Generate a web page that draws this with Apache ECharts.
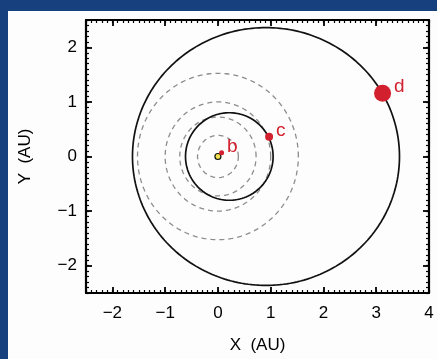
<!DOCTYPE html>
<html><head><meta charset="utf-8">
<script src="https://cdn.jsdelivr.net/npm/echarts@6/dist/echarts.min.js"></script>
<style>
html,body{margin:0;padding:0;width:437px;height:359px;overflow:hidden;background:#17407f;}
#paper{position:absolute;left:8px;top:11px;right:0;bottom:0;background:#fdfdfd;}
#chart{position:absolute;left:0;top:0;width:437px;height:359px;}
</style></head>
<body><div id="paper"></div><div id="chart"></div>
<script>
// ---- data ----
var xTicks = [-2, -1, 0, 1, 2, 3, 4];
var yTicks = [-2, -1, 0, 1, 2];
var xRange = [-2.5, 4];
var yRange = [-2.5, 2.5];
// Solar-system reference orbits (dashed), radius in AU
var solarRadii = [0.387, 0.723, 1.0, 1.524];
// Planet orbits: semi-major axis (AU), eccentricity
var orbitNames = ['c', 'd'];
var orbitA = [0.83, 2.53];
var orbitE = [0.26, 0.36];
// Planet positions
var planetNames = ['b', 'c', 'd'];
var planetX = [0.07, 0.97, 3.12];
var planetY = [0.07, 0.36, 1.16];
var planetSize = [5, 8, 17];
var star = [0, 0];

function ellipse(a, e) {
  var pts = [], c = a * e, b = a * Math.sqrt(1 - e * e);
  for (var i = 0; i <= 240; i++) {
    var t = i / 240 * 2 * Math.PI;
    pts.push([c + a * Math.cos(t), b * Math.sin(t)]);
  }
  return pts;
}
function minorVals(range, step) {
  var v = [], n = Math.round((range[1] - range[0]) / step);
  for (var i = 0; i <= n; i++) v.push(+(range[0] + i * step).toFixed(3));
  return v;
}
var fmt = function (v) { return String(v).replace('-', '\u2212'); };
var font = 'Liberation Sans';

function mkAxis(kind, pos, range, majors, withLabel, minor, name) {
  var ax = {
    type: 'value', position: pos, min: range[0], max: range[1],
    splitLine: { show: false },
    axisLine: { show: !minor, onZero: false, lineStyle: { color: '#000', width: 2.2 } },
    axisTick: { show: true, inside: true, length: minor ? 3 : 6,
      customValues: minor ? minorVals(range, 0.1) : majors,
      lineStyle: { color: '#000', width: minor ? 1.2 : 1.8 } },
    axisLabel: { show: withLabel, customValues: majors, formatter: fmt,
      fontFamily: font, fontSize: 17, color: '#000', margin: kind === 'x' ? 12 : 9 }
  };
  if (name) {
    ax.name = name; ax.nameLocation = 'middle';
    ax.nameGap = kind === 'x' ? 44 : 52;
    ax.nameTextStyle = { fontFamily: font, fontSize: 17, color: '#000' };
  }
  return ax;
}

var series = [];
solarRadii.forEach(function (r) {
  series.push({ type: 'line', data: ellipse(r, 0), showSymbol: false, silent: true,
    lineStyle: { color: '#8c8c8c', width: 1.3, type: [5, 4] }, z: 2 });
});
orbitA.forEach(function (a, i) {
  series.push({ type: 'line', name: orbitNames[i], data: ellipse(a, orbitE[i]), showSymbol: false,
    silent: true, lineStyle: { color: '#111', width: 1.7 }, z: 3 });
});
series.push({ type: 'scatter', data: [star], symbolSize: 6, z: 5,
  itemStyle: { color: '#f2e44a', borderColor: '#111', borderWidth: 1.2, opacity: 1 } });
series.push({ type: 'scatter', z: 6,
  data: planetNames.map(function (n, i) {
    return { name: n, value: [planetX[i], planetY[i]], symbolSize: planetSize[i] };
  }),
  itemStyle: { color: '#d3202f', opacity: 1 },
  label: { show: true, position: 'right', distance: 3, offset: [0, -6], formatter: '{b}',
    fontFamily: font, fontSize: 19, color: '#d3202f' } });

var chart = echarts.init(document.getElementById('chart'), null, { renderer: 'canvas' });
chart.setOption({
  animation: false,
  backgroundColor: 'transparent',
  grid: { left: 86, top: 20, right: 8, bottom: 63, containLabel: false },
  xAxis: [
    mkAxis('x', 'bottom', xRange, xTicks, true, false, 'X  (AU)'),
    mkAxis('x', 'bottom', xRange, xTicks, false, true),
    mkAxis('x', 'top', xRange, xTicks, false, false),
    mkAxis('x', 'top', xRange, xTicks, false, true)
  ],
  yAxis: [
    mkAxis('y', 'left', yRange, yTicks, true, false, 'Y  (AU)'),
    mkAxis('y', 'left', yRange, yTicks, false, true),
    mkAxis('y', 'right', yRange, yTicks, false, false),
    mkAxis('y', 'right', yRange, yTicks, false, true)
  ],
  series: series
});
</script></body></html>
